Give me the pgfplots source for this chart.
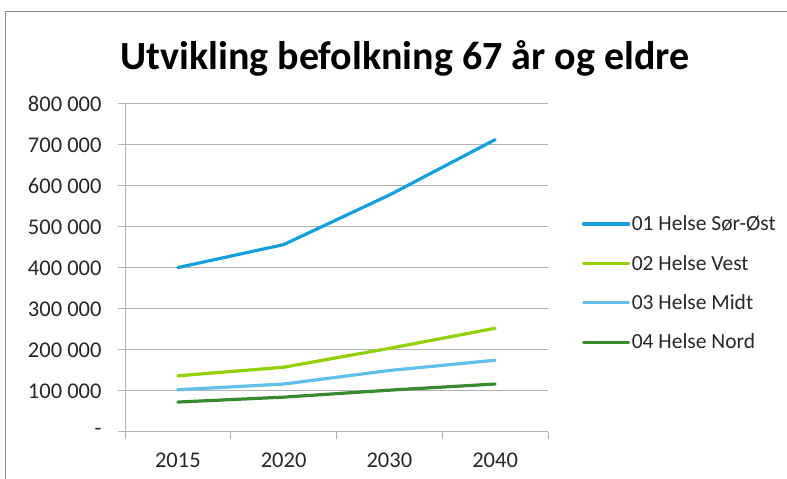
\documentclass[border=0pt]{standalone}
\usepackage{pgfplots}
\pgfplotsset{compat=1.18}
\usepackage{fontspec}
\setmainfont{Carlito}
\definecolor{cSO}{RGB}{22,160,219}
\definecolor{cVest}{RGB}{146,208,0}
\definecolor{cMidt}{RGB}{96,192,232}
\definecolor{cNord}{RGB}{56,138,46}
\definecolor{gridc}{RGB}{178,178,178}
\definecolor{framec}{RGB}{140,140,140}
\definecolor{txt}{RGB}{40,40,40}
\begin{document}
\begin{tikzpicture}[x=1bp,y=1bp]
\useasboundingbox (0,0) rectangle (787,479);
\draw[framec,line width=1bp] (5,0) -- (5,467) -- (787,467);
\node[anchor=base,inner sep=0,font=\fontsize{40bp}{44bp}\selectfont\bfseries] at (405,409) {Utvikling befolkning 67 år og eldre};
\begin{axis}[
  at={(125bp,47bp)}, anchor=south west,
  scale only axis, width=423bp, height=328bp,
  xmin=-0.5, xmax=3.5, ymin=0, ymax=800000,
  scaled y ticks=false,
  axis x line=bottom, axis y line=left,
  axis line style={gridc, line width=1bp, -},
  xtick={-0.5,0.5,1.5,2.5,3.5},
  xticklabels={2015,2020,2030,2040},
  x tick label as interval,
  ytick={0,100000,200000,300000,400000,500000,600000,700000,800000},
  yticklabels={-,100 000,200 000,300 000,400 000,500 000,600 000,700 000,800 000},
  ymajorgrids, grid style={gridc, line width=1bp},
  tick align=outside, major tick length=7bp,
  tick style={gridc, line width=1bp},
  ticklabel style={font=\fontsize{22.5bp}{26bp}\selectfont, text=txt},
  yticklabel style={xshift=-13bp},
  xticklabel style={yshift=-10bp},
  legend style={at={(1.08,0.454)}, anchor=west, draw=none, fill=none, inner sep=0pt,
    font=\fontsize{21.5bp}{25bp}\selectfont, text=txt, row sep=20bp,
    nodes={inner sep=1.5bp}},
  legend cell align=left,
  legend image code/.code={\draw[#1] (0bp,0bp) -- (45bp,0bp);},
  every axis plot/.append style={line width=3.2bp, line join=round, line cap=round},
]
\addplot[cSO] coordinates {(0,401000) (1,457000) (2,578000) (3,713000)};
\addlegendentry{01 Helse Sør-Øst}
\addplot[cVest] coordinates {(0,137000) (1,158000) (2,204000) (3,253000)};
\addlegendentry{02 Helse Vest}
\addplot[cMidt] coordinates {(0,103000) (1,117000) (2,150000) (3,175000)};
\addlegendentry{03 Helse Midt}
\addplot[cNord] coordinates {(0,73000) (1,85000) (2,102000) (3,117000)};
\addlegendentry{04 Helse Nord}
\end{axis}
\end{tikzpicture}
\end{document}
